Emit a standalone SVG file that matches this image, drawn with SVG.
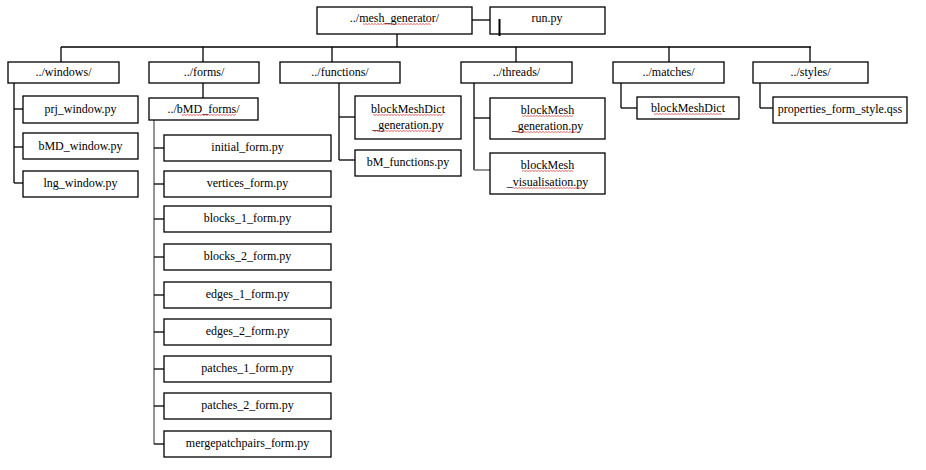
<svg xmlns="http://www.w3.org/2000/svg" width="926" height="470" viewBox="0 0 926 470">
<defs>
<style>
rect.b{fill:#fff;stroke:#000;stroke-width:1.3}
text{fill:#000;text-anchor:middle}
#connectors line{stroke:#000;stroke-width:1.3}
#connectors line.g{stroke:#7a7a7a;stroke-width:1.6}
rect.sp{fill:url(#wavy)}
</style>
<pattern id="wavy" width="3" height="2" patternUnits="userSpaceOnUse">
<path d="M0,1.5 L1.5,0.3 L3,1.5" fill="none" stroke="#d02020" stroke-width="0.7"/>
</pattern>
</defs>
<rect width="926" height="470" fill="#fff"/>
<g id="connectors">
<line x1="472" y1="20" x2="490" y2="20"/>
<line x1="397" y1="34" x2="397" y2="47"/>
<line x1="61" y1="47" x2="811" y2="47"/>
<line x1="61" y1="47" x2="61" y2="62"/>
<line x1="203" y1="47" x2="203" y2="62"/>
<line x1="332" y1="47" x2="332" y2="62"/>
<line x1="516" y1="47" x2="516" y2="62"/>
<line x1="669" y1="47" x2="669" y2="62"/>
<line x1="810" y1="47" x2="810" y2="62"/>
<line x1="14" y1="83" x2="14" y2="183"/>
<line x1="14" y1="109" x2="23" y2="109"/>
<line x1="14" y1="147" x2="23" y2="147"/>
<line x1="14" y1="183" x2="23" y2="183"/>
<line x1="203" y1="83" x2="203" y2="98"/>
<line class="g" x1="154" y1="120" x2="154" y2="444"/>
<line x1="154" y1="148" x2="164" y2="148"/>
<line x1="154" y1="184" x2="164" y2="184"/>
<line x1="154" y1="219" x2="164" y2="219"/>
<line x1="154" y1="257" x2="164" y2="257"/>
<line x1="154" y1="295" x2="164" y2="295"/>
<line x1="154" y1="332" x2="164" y2="332"/>
<line x1="154" y1="369" x2="164" y2="369"/>
<line x1="154" y1="406" x2="164" y2="406"/>
<line x1="154" y1="444" x2="164" y2="444"/>
<line x1="339" y1="83" x2="339" y2="160"/>
<line x1="339" y1="117" x2="355" y2="117"/>
<line x1="339" y1="160" x2="355" y2="160"/>
<line x1="474" y1="83" x2="474" y2="170"/>
<line x1="474" y1="118" x2="490" y2="118"/>
<line class="g" x1="474" y1="170" x2="490" y2="170"/>
<line x1="621" y1="83" x2="621" y2="108"/>
<line x1="621" y1="108" x2="637" y2="108"/>
<line x1="760" y1="83" x2="760" y2="108"/>
<line x1="760" y1="108" x2="773" y2="108"/>
</g>
<g font-family="Liberation Serif" font-size="12">
<g id="mesh_generator"><rect class="b" x="317" y="7" width="155" height="27"/><text x="394.5" y="22">../mesh_generator/</text><rect class="sp" x="363" y="23" width="68" height="2"/></g>
<g id="run_py"><rect class="b" x="490" y="7" width="115" height="27"/><text x="547" y="22">run.py</text><line x1="499.5" y1="19" x2="499.5" y2="36" stroke="#000" stroke-width="2"/></g>
<g id="windows"><rect class="b" x="8" y="62" width="111" height="21"/><text x="63.5" y="76">../windows/</text></g>
<g id="prj_window"><rect class="b" x="23" y="96" width="115" height="27"/><text x="80.5" y="113">prj_window.py</text></g>
<g id="bMD_window"><rect class="b" x="23" y="133" width="115" height="26"/><text x="80.5" y="150">bMD_window.py</text></g>
<g id="lng_window"><rect class="b" x="23" y="171" width="115" height="26"/><text x="80.5" y="187">lng_window.py</text></g>
<g id="forms"><rect class="b" x="149" y="62" width="110" height="21"/><text x="204" y="76">../forms/</text></g>
<g id="bMD_forms"><rect class="b" x="149" y="98" width="109" height="22"/><text x="203.5" y="113">../bMD_forms/</text><rect class="sp" x="182" y="114" width="54" height="2"/></g>
<g id="initial_form"><rect class="b" x="164" y="135" width="167" height="26"/><text x="247.5" y="151">initial_form.py</text></g>
<g id="vertices_form"><rect class="b" x="164" y="171" width="167" height="26"/><text x="247.5" y="187">vertices_form.py</text></g>
<g id="blocks_1_form"><rect class="b" x="164" y="206" width="167" height="26"/><text x="247.5" y="222">blocks_1_form.py</text></g>
<g id="blocks_2_form"><rect class="b" x="164" y="244" width="167" height="26"/><text x="247.5" y="260">blocks_2_form.py</text></g>
<g id="edges_1_form"><rect class="b" x="164" y="282" width="167" height="26"/><text x="247.5" y="298">edges_1_form.py</text></g>
<g id="edges_2_form"><rect class="b" x="164" y="319" width="167" height="26"/><text x="247.5" y="335">edges_2_form.py</text></g>
<g id="patches_1_form"><rect class="b" x="164" y="356" width="167" height="26"/><text x="247.5" y="372">patches_1_form.py</text></g>
<g id="patches_2_form"><rect class="b" x="164" y="393" width="167" height="26"/><text x="247.5" y="409">patches_2_form.py</text></g>
<g id="mergepatchpairs_form"><rect class="b" x="164" y="431" width="167" height="26"/><text x="247.5" y="447">mergepatchpairs_form.py</text></g>
<g id="functions"><rect class="b" x="280" y="62" width="120" height="21"/><text x="340" y="76">../functions/</text></g>
<g id="blockMeshDict_generation"><rect class="b" x="355" y="96" width="106" height="43"/><text x="408" y="113">blockMeshDict</text><text x="408" y="129">_generation.py</text><rect class="sp" x="373" y="114" width="70" height="2"/><rect class="sp" x="373" y="130" width="62" height="2"/></g>
<g id="bM_functions"><rect class="b" x="355" y="150" width="106" height="26"/><text x="408" y="166">bM_functions.py</text></g>
<g id="threads"><rect class="b" x="461" y="62" width="111" height="21"/><text x="516.5" y="76">../threads/</text></g>
<g id="blockMesh_generation"><rect class="b" x="490" y="98" width="115" height="41"/><text x="547.5" y="114">blockMesh</text><text x="547.5" y="130">_generation.py</text><rect class="sp" x="522" y="115" width="51" height="2"/><rect class="sp" x="516" y="131" width="64" height="2"/></g>
<g id="blockMesh_visualisation"><rect class="b" x="490" y="153" width="115" height="41"/><text x="547.5" y="169">blockMesh</text><text x="547.5" y="186">_visualisation.py</text><rect class="sp" x="522" y="170" width="51" height="2"/><rect class="sp" x="513" y="187" width="72" height="2"/></g>
<g id="matches"><rect class="b" x="613" y="62" width="111" height="21"/><text x="668.5" y="76">../matches/</text></g>
<g id="blockMeshDict"><rect class="b" x="637" y="97" width="102" height="22"/><text x="688" y="112">blockMeshDict</text><rect class="sp" x="654" y="113" width="68" height="2"/></g>
<g id="styles"><rect class="b" x="753" y="62" width="115" height="21"/><text x="810.5" y="76">../styles/</text></g>
<g id="properties_form_style"><rect class="b" x="773" y="97" width="134" height="26"/><text x="840" y="113">properties_form_style.qss</text></g>
</g>
</svg>
